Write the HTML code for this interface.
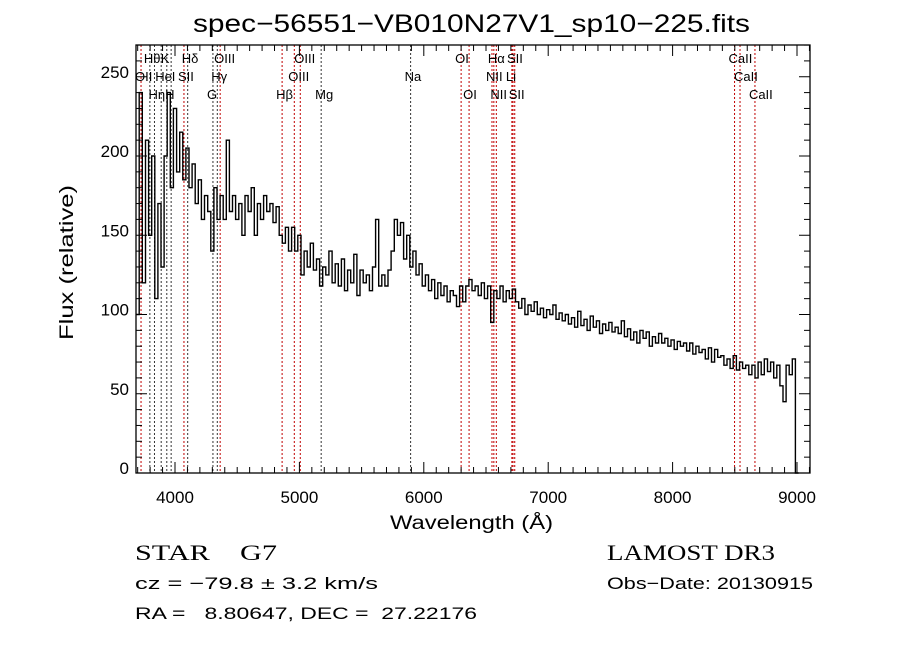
<!DOCTYPE html>
<html><head><meta charset="utf-8"><style>
body{margin:0;background:#fff;width:900px;height:649px;overflow:hidden}
svg text{font-family:"Liberation Sans",sans-serif;fill:#000;white-space:pre}
.s{font-family:"Liberation Serif",serif}
</style></head><body>
<svg id="chart" width="900" height="649" viewBox="0 0 900 649" xmlns="http://www.w3.org/2000/svg">
<rect width="900" height="649" fill="#fff"/>
<text x="193" y="32" font-size="25" textLength="557" lengthAdjust="spacingAndGlyphs">spec−56551−VB010N27V1_sp10−225.fits</text>
<g id="lines"></g>
<g id="labels" class="s" font-size="13"></g>
<g id="axes"></g>
<path id="spec" fill="none" stroke="#000" stroke-width="1.4"/>
<text x="390" y="529" font-size="19" textLength="163" lengthAdjust="spacingAndGlyphs">Wavelength (Å)</text>
<text transform="translate(73,340) rotate(-90)" font-size="19" textLength="155" lengthAdjust="spacingAndGlyphs">Flux (relative)</text>
<text x="135" y="560" font-size="22" class="s" textLength="142" lengthAdjust="spacingAndGlyphs">STAR    G7</text>
<text x="607" y="560" font-size="22" class="s" textLength="168" lengthAdjust="spacingAndGlyphs">LAMOST DR3</text>
<text x="135" y="589" font-size="17" textLength="243" lengthAdjust="spacingAndGlyphs">cz = −79.8 ± 3.2 km/s</text>
<text x="607" y="589" font-size="17" textLength="206" lengthAdjust="spacingAndGlyphs">Obs−Date: 20130915</text>
<text x="135" y="619" font-size="17" textLength="342" lengthAdjust="spacingAndGlyphs">RA =   8.80647, DEC =  27.22176</text>
</svg>
<script>
const flux=[100,240,120,210,150,200,110,170,130,200,240,180,230,190,215,185,205,180,195,170,185,160,175,165,140,180,160,175,160,210,165,175,160,170,150,175,165,180,150,170,160,175,165,170,158,168,150,145,155,140,155,140,150,125,140,130,145,128,135,118,130,125,140,120,132,118,135,115,128,120,138,112,128,120,125,115,130,160,118,125,118,128,140,160,150,158,135,150,130,140,125,132,118,125,115,122,110,120,112,118,108,115,112,105,118,108,118,122,115,118,112,120,110,118,95,115,110,118,108,115,110,116,108,104,110,100,106,102,108,100,104,98,103,100,106,97,101,96,100,94,98,92,102,93,97,90,99,92,96,88,94,90,95,89,92,88,96,86,91,84,89,82,90,85,89,80,86,82,88,82,85,80,84,78,83,80,82,77,82,75,80,76,78,72,79,70,78,73,74,68,72,66,74,65,70,66,68,62,68,60,70,62,72,64,70,60,68,55,45,68,62,72,0];
const wlStart=3700, wlStep=25;
const xTicks=[4000,5000,6000,7000,8000,9000];
const yTicks=[0,50,100,150,200,250];
const lineNames=["OII","Hθ","Hη","HeI","K","H","SII","Hδ","G","Hγ","OIII","Hβ","OIII","OIII","Mg","Na","OI","OI","NII","Hα","NII","Li","SII","SII","CaII","CaII","CaII"];
const lineWl=[3727,3798,3835,3889,3934,3969,4072,4102,4305,4340,4363,4861,4959,5007,5175,5894,6300,6364,6548,6563,6583,6708,6717,6731,8498,8542,8662];
const lineRow=[1,0,2,1,0,2,1,0,2,1,0,2,1,0,2,1,0,2,1,0,2,1,0,2,0,1,2];
const red=[1,0,0,0,0,0,1,0,0,0,1,1,1,1,0,0,1,1,1,1,1,1,1,1,1,1,1];
const X0=136,X1=810,Y0=45,Y1=473;
const xs=w=>175+(w-4000)*0.1244;
const ys=v=>Y1-v*1.585;
const NS="http://www.w3.org/2000/svg";
function mk(t,a,p){const e=document.createElementNS(NS,t);for(const k in a)e.setAttribute(k,a[k]);p.appendChild(e);return e;}
const L=document.getElementById('lines'),LB=document.getElementById('labels'),A=document.getElementById('axes');
lineWl.forEach((w,i)=>{
 const l=mk('line',{x1:xs(w),x2:xs(w),y1:Y0,y2:Y1,stroke:red[i]?'#c00000':'#333','stroke-width':1,'stroke-dasharray':'2,2'},L);
 
 
 const t=mk('text',{x:xs(w)-6,y:63+lineRow[i]*18},LB);
 t.textContent=lineNames[i];
 
 
});
const fr=mk('rect',{x:X0,y:Y0,width:X1-X0,height:Y1-Y0,fill:'none',stroke:'#000','stroke-width':1.3},A);


for(let w=3700;w<=9100;w+=100){const x=xs(w);if(x<X0||x>X1)continue;const len=(w%1000===0)?11:6;
 mk('line',{x1:x,x2:x,y1:Y1,y2:Y1-len,stroke:'#000'},A);mk('line',{x1:x,x2:x,y1:Y0,y2:Y0+len,stroke:'#000'},A);}
for(let v=0;v<=270;v+=10){const y=ys(v);if(y<Y0)continue;const len=(v%50===0)?11:6;
 mk('line',{x1:X0,x2:X0+len,y1:y,y2:y,stroke:'#000'},A);mk('line',{x1:X1,x2:X1-len,y1:y,y2:y,stroke:'#000'},A);}
xTicks.forEach(w=>{const t=mk('text',{x:xs(w),y:503,'text-anchor':'middle','font-size':17},A);t.textContent=w;
 
 });
yTicks.forEach(v=>{const t=mk('text',{x:129,y:ys(v)+1,'text-anchor':'end','font-size':17},A);t.textContent=v;
 
 });
let d='';
flux.forEach((f,i)=>{const w=wlStart+i*wlStep;const x0=xs(w-wlStep/2).toFixed(1),x1=xs(w+wlStep/2).toFixed(1),y=ys(f).toFixed(1);
 d+=(i?'L':'M')+x0+','+y+'L'+x1+','+y;});
document.getElementById('spec').setAttribute('d',d);
</script>
</body></html>
